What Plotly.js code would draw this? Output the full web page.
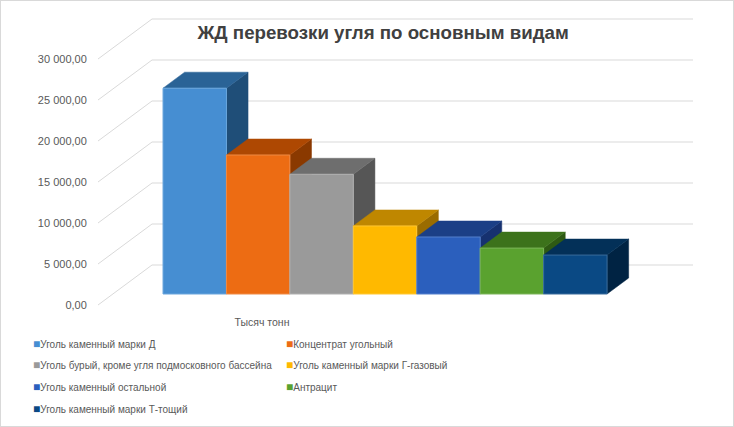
<!DOCTYPE html>
<html>
<head>
<meta charset="utf-8">
<script src="https://cdn.plot.ly/plotly-3.0.1.min.js"></script>
<style>
  body { margin: 0; background: #fff; }
  #chart { width: 732px; height: 425px; border: 1px solid #d9d9d9; }
</style>
</head>
<body>
<div id="chart"></div>
<script>
// Chart data
const categories = ['Тысяч тонн'];
const seriesNames = [
  'Уголь каменный марки Д',
  'Концентрат угольный',
  'Уголь бурый, кроме угля подмосковного бассейна',
  'Уголь каменный марки Г-газовый',
  'Уголь каменный остальной',
  'Антрацит',
  'Уголь каменный марки Т-тощий'
];
const seriesValues = [25100, 16950, 14600, 8300, 6950, 5600, 4750];
const yTicks = [0, 5000, 10000, 15000, 20000, 25000, 30000];

// Face colours (front / top / side) per series
const frontColors = ['#468ed2', '#ed6c13', '#9a9a9a', '#ffb900', '#2b5fbd', '#5aa22f', '#0a4984'];
const edgeColors  = ['#6aa6dd', '#f08a45', '#b0b0b0', '#ffc733', '#5580cc', '#7cb55a', '#3a6c9c'];
const topColors   = ['#2a6396', '#ae4802', '#6e6e6e', '#bf8700', '#1b3f86', '#3c721b', '#033058'];
const sideColors  = ['#1f4e78', '#8a3900', '#565656', '#9a6c00', '#16316f', '#2e5a13', '#002343'];

// Oblique 3D projection: full floor depth shifts a point by DX (x units) and DY (value units)
const DX = 0.8513;
const DY = 4878;
const D0 = 0.275;   // front of the bar slab
const D1 = 0.675;   // back of the bar slab
const xRange = [-1.525, 7.855];
const yRange = [-244, 35366];
const LABEL_X = 1.06;

const textColor = '#595959';
const gridColor = '#d9d9d9';
const smallFont = 'Liberation Sans, Arial, sans-serif';

const traces = [];

// back wall gridlines + diagonals on the side wall
const gx = [], gy = [];
yTicks.forEach(v => {
  gx.push(xRange[0], xRange[0] + DX, xRange[1], null);
  gy.push(v, v + DY, v + DY, null);
});
traces.push({
  type: 'scatter', mode: 'lines', x: gx, y: gy,
  line: { color: gridColor, width: 1 },
  hoverinfo: 'skip', showlegend: false
});

// bars: side, top, front for each series, drawn left to right
const base = D0 * DY;
const ddx = (D1 - D0) * DX;
const ddy = (D1 - D0) * DY;
seriesValues.forEach((v, i) => {
  const l = i - 0.5, r = i + 0.5, t = base + v;
  traces.push({
    type: 'scatter', mode: 'lines', fill: 'toself',
    x: [r, r, r + ddx, r + ddx, r],
    y: [base, t, t + ddy, base + ddy, base],
    fillcolor: sideColors[i], line: { color: sideColors[i], width: 0.5 },
    hoverinfo: 'skip', showlegend: false
  });
  traces.push({
    type: 'scatter', mode: 'lines', fill: 'toself',
    x: [l, r, r + ddx, l + ddx, l],
    y: [t, t, t + ddy, t + ddy, t],
    fillcolor: topColors[i], line: { color: topColors[i], width: 0.5 },
    hoverinfo: 'skip', showlegend: false
  });
  traces.push({
    type: 'scatter', mode: 'lines', fill: 'toself',
    x: [l, r, r, l, l],
    y: [base, base, t, t, base],
    fillcolor: frontColors[i], line: { color: edgeColors[i], width: 1 },
    name: seriesNames[i], text: categories[0] + ': ' + v,
    hoveron: 'fills', hoverinfo: 'name+text', showlegend: false
  });
});

// legend entries: left column gets series 1,3,5,7, right column 2,4,6.
// The colour key is a square glyph right before the name, as in Excel.
seriesNames.forEach((name, i) => {
  traces.push({
    type: 'scatter', mode: 'markers', x: [null], y: [null],
    name: '<span style="color:' + frontColors[i] + ';font-size:12px">■</span>' + name,
    legend: i % 2 === 0 ? 'legend' : 'legend2',
    legendgroup: 's' + i,
    marker: { symbol: 'square', size: 7, color: 'rgba(0,0,0,0)' },
    hoverinfo: 'skip'
  });
});

const legendBase = {
  orientation: 'v',
  xref: 'paper', yref: 'container',
  xanchor: 'left', yanchor: 'top',
  y: 0.228,
  tracegroupgap: 2.7,
  font: { family: smallFont, size: 10, color: textColor },
  bgcolor: 'rgba(0,0,0,0)'
};

const layout = {
  width: 732,
  height: 425,
  margin: { l: 97, r: 40, t: 14, b: 119, autoexpand: false },
  paper_bgcolor: '#ffffff',
  plot_bgcolor: 'rgba(0,0,0,0)',
  separators: ', ',
  title: {
    text: 'ЖД перевозки угля по основным видам',
    xref: 'container', yref: 'container',
    x: 0.522, xanchor: 'center',
    y: 0.927, yanchor: 'middle',
    font: { family: 'Liberation Sans, Arial, sans-serif', size: 18.7, weight: 'bold', color: '#404040' }
  },
  xaxis: {
    range: xRange,
    showgrid: false, zeroline: false, showline: false,
    tickmode: 'array', tickvals: [LABEL_X], ticktext: categories,
    ticks: 'outside', ticklen: 5, tickcolor: 'rgba(0,0,0,0)',
    tickfont: { family: smallFont, size: 10.5, color: textColor },
    fixedrange: true
  },
  yaxis: {
    range: yRange,
    showgrid: false, zeroline: false, showline: false,
    tickmode: 'array', tickvals: yTicks, tickformat: ',.2f',
    ticks: 'outside', ticklen: 8, tickcolor: 'rgba(0,0,0,0)',
    tickfont: { family: smallFont, size: 11, color: textColor },
    fixedrange: true
  },
  legend: Object.assign({}, legendBase, { x: -0.1765 }),
  legend2: Object.assign({}, legendBase, { x: 0.2487 })
};

Plotly.newPlot('chart', traces, layout, { displayModeBar: false });
</script>
</body>
</html>
